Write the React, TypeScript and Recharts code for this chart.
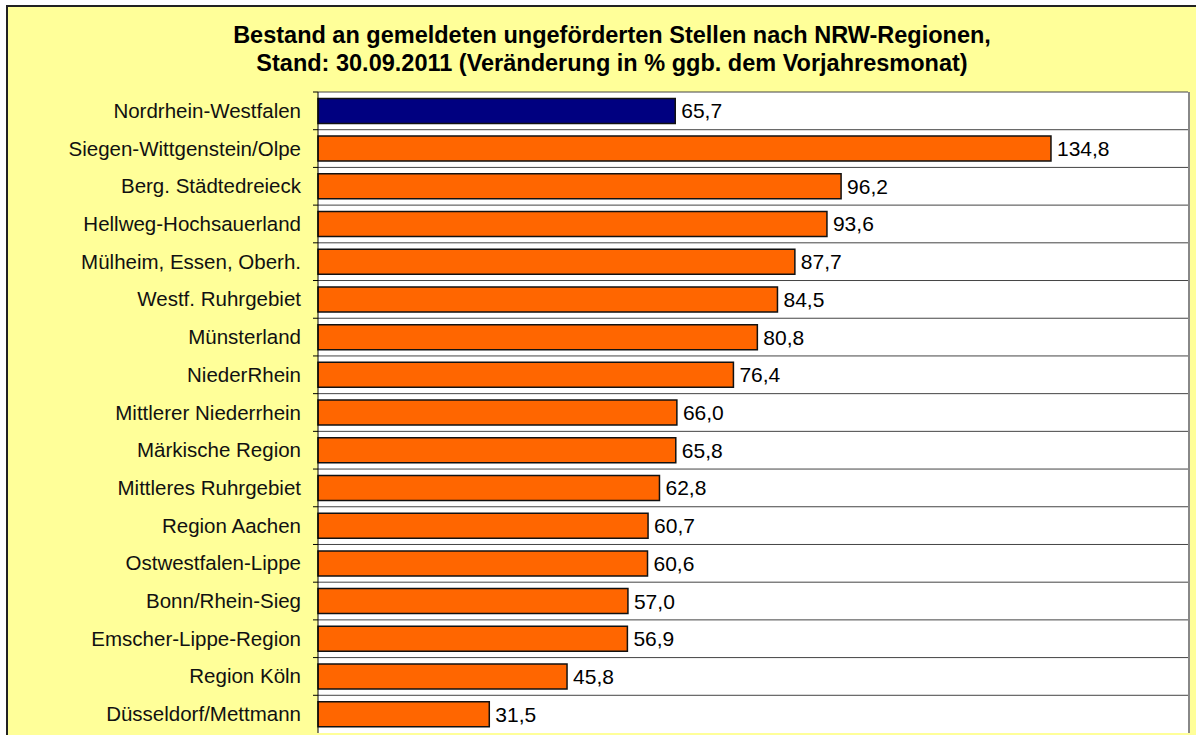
import React from 'react';
import { BarChart, Bar, XAxis, YAxis, CartesianGrid, LabelList, Cell } from 'recharts';

const regions = [
  'Nordrhein-Westfalen',
  'Siegen-Wittgenstein/Olpe',
  'Berg. Städtedreieck',
  'Hellweg-Hochsauerland',
  'Mülheim, Essen, Oberh.',
  'Westf. Ruhrgebiet',
  'Münsterland',
  'NiederRhein',
  'Mittlerer Niederrhein',
  'Märkische Region',
  'Mittleres Ruhrgebiet',
  'Region Aachen',
  'Ostwestfalen-Lippe',
  'Bonn/Rhein-Sieg',
  'Emscher-Lippe-Region',
  'Region Köln',
  'Düsseldorf/Mettmann',
];

const changes = [65.7, 134.8, 96.2, 93.6, 87.7, 84.5, 80.8, 76.4, 66.0, 65.8, 62.8, 60.7, 60.6, 57.0, 56.9, 45.8, 31.5];

const titleLines = [
  'Bestand an gemeldeten ungeförderten Stellen nach NRW-Regionen,',
  'Stand: 30.09.2011 (Veränderung in % ggb. dem Vorjahresmonat)',
];

const data = regions.map((region, i) => ({ region, value: changes[i] }));

const FONT = '"Liberation Sans", Arial, sans-serif';
const W = 1196;
const H = 735;
const M = { top: 92, right: 8, bottom: 2, left: 0 };
const AXIS_W = 318;

const fmt = (v: any) => Number(v).toFixed(1).replace('.', ',');

const RegionTick = (props: any) => {
  const { x, y, payload } = props;
  const step = (H - M.top - M.bottom) / regions.length;
  return (
    <g>
      <line x1={AXIS_W - 5} x2={AXIS_W} y1={y - step / 2} y2={y - step / 2} stroke="#000" />
      <text x={x} y={y} dy={7} textAnchor="end" fontSize={20.5} fill="#111" fontFamily={FONT}>
        {payload.value}
      </text>
    </g>
  );
};

export default function App() {
  return (
    <div style={{ position: 'absolute', left: 0, top: 0, width: W, height: H, overflow: 'hidden' }}>
      <div
        style={{
          position: 'absolute',
          left: 6,
          top: 5,
          width: W,
          height: H,
          background: '#FFFF99',
          borderLeft: '2px solid #222',
          borderTop: '2px solid #222',
        }}
      />
      <div
        style={{
          position: 'absolute',
          left: 0,
          top: 21,
          width: 1224,
          textAlign: 'center',
          fontFamily: FONT,
          fontWeight: 'bold',
          fontSize: 23.5,
          lineHeight: '28px',
          color: '#000',
        }}
      >
        {titleLines.map((t) => (
          <div key={t}>{t}</div>
        ))}
      </div>
      <div style={{ position: 'absolute', left: 0, top: 0 }}>
        <BarChart width={W} height={H} data={data} layout="vertical" margin={M} barCategoryGap="17%">
          <CartesianGrid
            vertical={false}
            fill="#fff"
            stroke="#444"
            strokeOpacity={1}
            horizontalCoordinatesGenerator={({ offset }: any) =>
              regions.map((_, i) => offset.top + (offset.height * i) / regions.length)
            }
          />
          <XAxis type="number" domain={[0, 160]} hide />
          <YAxis
            type="category"
            dataKey="region"
            width={AXIS_W}
            axisLine={{ stroke: '#000', strokeWidth: 1 }}
            tickLine={false}
            tickMargin={11}
            tick={<RegionTick />}
            interval={0}
          />
          <Bar dataKey="value" stroke="#111" strokeWidth={1.5} isAnimationActive={false}>
            {data.map((d, i) => (
              <Cell key={d.region} fill={i === 0 ? '#000080' : '#FF6600'} />
            ))}
            <LabelList
              dataKey="value"
              position="right"
              offset={6}
              formatter={fmt}
              style={{ fontSize: 21, fill: '#000', fontFamily: FONT }}
            />
          </Bar>
        </BarChart>
      </div>
      <div
        style={{
          position: 'absolute',
          left: 1188,
          top: 92,
          width: 2,
          height: 641,
          background: '#888',
        }}
      />
    </div>
  );
}
